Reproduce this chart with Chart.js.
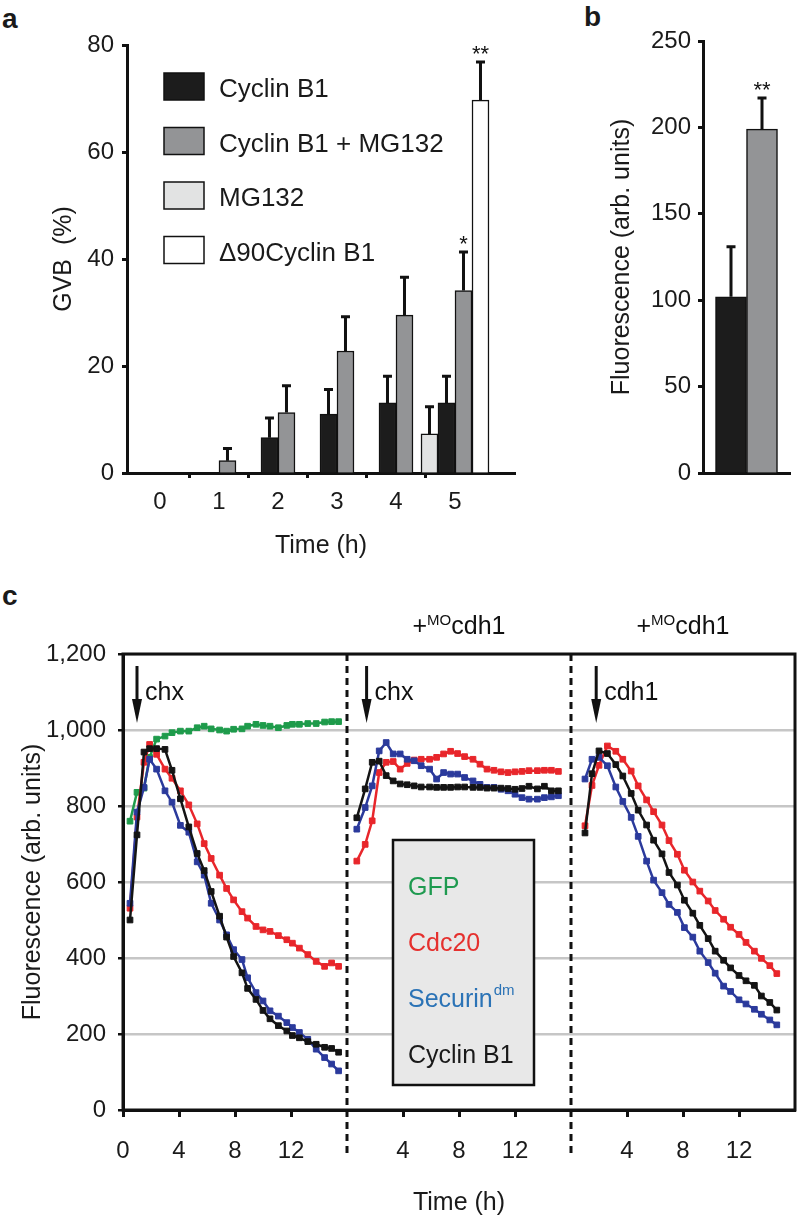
<!DOCTYPE html>
<html>
<head>
<meta charset="utf-8">
<script src="https://cdn.jsdelivr.net/npm/chart.js@4.4.0/dist/chart.umd.min.js"></script>
<style>
  body { margin: 0; background: #fff; width: 800px; height: 1219px; position: relative; overflow: hidden;
         font-family: 'Liberation Sans', Arial, Helvetica, sans-serif; color: #1a1a1a; }
  canvas { position: absolute; }
  .tag { position: absolute; font-weight: bold; font-size: 28px; line-height: 28px; }
</style>
</head>
<body>
<div class="tag" style="left:2px;top:5px">a</div>
<div class="tag" style="left:584px;top:3px">b</div>
<div class="tag" style="left:2px;top:582px">c</div>
<canvas id="gvbChart" width="540" height="575" style="left:0;top:0"></canvas>
<canvas id="fluoChart" width="255" height="500" style="left:545px;top:0"></canvas>
<canvas id="traceChart" width="800" height="629" style="left:0;top:590px"></canvas>
<script>
// ---------- panel a : GVB over time ----------
const gvbHours = [0, 1, 2, 3, 4, 5];
const gvbMG132 = [null, null, null, null, null, 7.3];
const gvbMG132Err = [null, null, null, null, null, 5.1];
const gvbCyclin = [0, 0, 6.6, 11.0, 13.1, 13.1];
const gvbCyclinErr = [null, null, 3.7, 4.6, 5.0, 5.0];
const gvbCyclinMG = [0, 2.3, 11.3, 22.8, 29.5, 34.1];
const gvbCyclinMGErr = [null, 2.3, 5.0, 6.4, 7.1, 7.2];
const gvbCyclinMGStars = [null, null, null, null, null, '*'];
const gvbDelta90 = [null, null, null, null, null, 69.7];
const gvbDelta90Err = [null, null, null, null, null, 7.1];
const gvbDelta90Stars = [null, null, null, null, null, '**'];
const gvbLegendOrder = [1, 2, 0, 3];

// ---------- panel b : fluorescence ----------
const fluoConditions = ['Cyclin B1', 'Cyclin B1 + MG132'];
const fluoMeans = [102, 199];
const fluoErr = [29, 18];
const fluoStars = [null, '**'];

// ---------- panel c : fluorescence traces ----------
const segmentStart = [0, 16, 32];
const seg1Hours = [0.5, 1.0, 1.5, 1.9, 2.4, 3.0, 3.5, 4.1, 4.7, 5.3, 5.8, 6.3, 6.9, 7.4, 7.9, 8.5, 8.9, 9.5, 10.0, 10.5, 11.1, 11.7, 12.1, 12.6, 13.2, 13.8, 14.4, 14.9, 15.4];
const seg1GFP = [760, 836, 847, 928, 976, 984, 993, 997, 997, 1006, 1010, 1003, 1000, 997, 1002, 1003, 1010, 1015, 1012, 1010, 1006, 1012, 1015, 1015, 1017, 1017, 1021, 1022, 1022];
const seg1Cdc20 = [531, 771, 915, 962, 936, 897, 873, 840, 803, 753, 701, 662, 618, 583, 553, 522, 505, 483, 474, 470, 459, 448, 439, 426, 409, 391, 378, 387, 378];
const seg1Securin = [544, 784, 849, 923, 897, 840, 810, 749, 731, 653, 618, 544, 500, 461, 422, 396, 348, 309, 287, 261, 247, 230, 217, 204, 186, 160, 138, 121, 103];
const seg1Cyclin = [500, 724, 942, 951, 951, 949, 894, 819, 745, 675, 630, 575, 510, 455, 404, 361, 320, 291, 262, 240, 222, 208, 196, 190, 180, 173, 165, 162, 152];

const seg2Hours = [0.7, 1.3, 1.8, 2.3, 2.8, 3.3, 3.8, 4.3, 4.8, 5.3, 5.9, 6.4, 6.9, 7.4, 7.9, 8.4, 9.0, 9.5, 10.0, 10.5, 11.0, 11.5, 12.0, 12.5, 13.0, 13.6, 14.1, 14.6, 15.1];
const seg2Cdc20 = [655, 699, 761, 888, 915, 917, 897, 912, 921, 923, 923, 928, 937, 944, 938, 930, 923, 910, 897, 894, 890, 888, 890, 891, 893, 893, 894, 894, 891];
const seg2Securin = [739, 796, 853, 945, 967, 937, 937, 923, 919, 906, 897, 871, 888, 884, 884, 875, 866, 857, 849, 849, 844, 840, 831, 822, 818, 818, 822, 824, 827];
const seg2Cyclin = [769, 845, 915, 918, 880, 866, 858, 856, 853, 850, 850, 849, 849, 849, 850, 850, 849, 849, 847, 847, 847, 846, 844, 846, 852, 845, 852, 840, 840];

const seg3Hours = [1.0, 1.5, 2.0, 2.6, 3.2, 3.7, 4.3, 4.8, 5.4, 5.9, 6.5, 7.0, 7.6, 8.1, 8.7, 9.2, 9.8, 10.3, 10.9, 11.4, 12.0, 12.5, 13.1, 13.6, 14.2, 14.7];
const seg3Cdc20 = [748, 854, 907, 958, 944, 923, 892, 853, 816, 785, 750, 709, 673, 631, 600, 576, 550, 525, 502, 481, 462, 441, 418, 399, 380, 359];
const seg3Securin = [871, 923, 928, 906, 850, 812, 770, 720, 655, 605, 572, 541, 520, 480, 455, 418, 388, 360, 326, 312, 290, 279, 265, 252, 237, 224];
const seg3Cyclin = [729, 885, 945, 938, 909, 879, 833, 789, 750, 710, 674, 625, 592, 552, 518, 486, 451, 418, 394, 374, 354, 340, 328, 300, 283, 263];

const addHours = [1.0, 1.4, 1.8];
const addLabels = ['chx', 'chx', 'cdh1'];
const segmentTitles = [null, ['+', 'MO', 'cdh1'], ['+', 'MO', 'cdh1']];
const traceLegend = [['GFP', ''], ['Cdc20', ''], ['Securin', 'dm'], ['Cyclin B1', '']];

// ---------- styling ----------
const FONT = "'Liberation Sans', Arial, Helvetica, sans-serif";
Chart.defaults.font.family = FONT;
Chart.defaults.color = '#1a1a1a';
Chart.defaults.animation = false;

const lineColor = { GFP: '#1e9b4b', Cdc20: '#e8262b', Securin: '#2b3a9c', Cyclin: '#141414' };
const legendTextColor = ['#1f9a50', '#e5302e', '#2b73b6', '#1a1a1a'];

const isHalfStep = v => Math.abs(v * 2 - Math.round(v * 2)) < 1e-6 && Math.abs(v - Math.round(v)) > 0.1;

// keep the axis box where the layout padding puts it (no label overhang padding)
const fixX = h => s => { s.height = h; s.paddingLeft = 0; s.paddingRight = 0; };
const fixY = w => s => { s.width = w; s.paddingTop = 0; s.paddingBottom = 0; };

const errorBars = {
  id: 'errorBars',
  afterDatasetsDraw(chart) {
    const ctx = chart.ctx;
    const y = chart.scales.y;
    ctx.save();
    ctx.strokeStyle = '#111';
    ctx.fillStyle = '#111';
    ctx.lineWidth = 3;
    ctx.font = '22px ' + FONT;
    ctx.textAlign = 'center';
    ctx.textBaseline = 'alphabetic';
    chart.data.datasets.forEach((ds, i) => {
      chart.getDatasetMeta(i).data.forEach((bar, j) => {
        const v = ds.data[j];
        if (v == null) return;
        const err = ds.errors ? ds.errors[j] : null;
        let top = bar.y;
        if (err != null) {
          top = y.getPixelForValue(v + err);
          ctx.beginPath();
          ctx.moveTo(bar.x, bar.y);
          ctx.lineTo(bar.x, top);
          ctx.moveTo(bar.x - 4.5, top);
          ctx.lineTo(bar.x + 4.5, top);
          ctx.stroke();
        }
        const star = ds.stars ? ds.stars[j] : null;
        if (star) ctx.fillText(star, bar.x, top - 1);
      });
    });
    ctx.restore();
  }
};

const gvbLegend = {
  id: 'gvbLegend',
  afterDraw(chart) {
    const ctx = chart.ctx;
    const a = chart.chartArea;
    ctx.save();
    ctx.font = '26px ' + FONT;
    ctx.textBaseline = 'middle';
    gvbLegendOrder.forEach((di, k) => {
      const ds = chart.data.datasets[di];
      const bx = a.left + 37, by = a.top + 28 + k * 54.5;
      ctx.fillStyle = ds.backgroundColor;
      ctx.fillRect(bx, by, 40, 27);
      ctx.lineWidth = 1.5;
      ctx.strokeStyle = '#111';
      ctx.strokeRect(bx, by, 40, 27);
      ctx.fillStyle = '#1a1a1a';
      ctx.fillText(ds.label, bx + 55, by + 17);
    });
    ctx.restore();
  }
};

const barDefaults = { borderColor: '#111', borderWidth: 1.5 };

new Chart(document.getElementById('gvbChart'), {
  type: 'bar',
  data: {
    labels: gvbHours,
    datasets: [
      { label: 'MG132', data: gvbMG132, errors: gvbMG132Err, backgroundColor: '#e2e3e3' },
      { label: 'Cyclin B1', data: gvbCyclin, errors: gvbCyclinErr, backgroundColor: '#1c1c1c' },
      { label: 'Cyclin B1 + MG132', data: gvbCyclinMG, errors: gvbCyclinMGErr, stars: gvbCyclinMGStars, backgroundColor: '#939496' },
      { label: '\u039490Cyclin B1', data: gvbDelta90, errors: gvbDelta90Err, stars: gvbDelta90Stars, backgroundColor: '#ffffff' }
    ].map(d => Object.assign({}, barDefaults, { barThickness: 17 }, d))
  },
  options: {
    responsive: false,
    layout: { padding: { top: 45, right: 25, left: 0, bottom: 0 } },
    plugins: { legend: { display: false }, tooltip: { enabled: false } },
    scales: {
      x: {
        type: 'linear', min: -0.559, max: 6.017, offset: false,
        afterFit: fixX(102),
        border: { color: '#111', width: 3 },
        grid: {
          drawOnChartArea: false, offset: false, tickLength: 5, tickWidth: 3,
          tickColor: c => (c.tick && isHalfStep(c.tick.value) && c.tick.value < 5) ? '#111' : 'rgba(0,0,0,0)'
        },
        ticks: {
          stepSize: 0.5, maxTicksLimit: 20, autoSkip: false, maxRotation: 0, padding: 10,
          font: { size: 24 },
          callback: v => (Number.isInteger(v) && v >= 0 && v <= 5) ? String(v) : ''
        },
        title: { display: true, text: 'Time (h)', font: { size: 25 }, padding: { top: 0, bottom: 14 } }
      },
      y: {
        min: 0, max: 80,
        afterFit: fixY(127),
        border: { color: '#111', width: 3 },
        grid: { drawOnChartArea: false, tickLength: 5, tickWidth: 3, tickColor: '#111' },
        ticks: { stepSize: 20, padding: 8, font: { size: 24 } },
        title: { display: true, text: 'GVB  (%)', font: { size: 25 }, padding: { top: 49 } }
      }
    }
  },
  plugins: [errorBars, gvbLegend]
});

new Chart(document.getElementById('fluoChart'), {
  type: 'bar',
  data: {
    labels: [''],
    datasets: fluoConditions.map((c, i) => Object.assign({}, barDefaults, {
      label: c, data: [fluoMeans[i]], errors: [fluoErr[i]], stars: [fluoStars[i]],
      backgroundColor: i ? '#939496' : '#1c1c1c', barThickness: 31
    }))
  },
  options: {
    responsive: false,
    layout: { padding: { top: 41, right: 10, left: 0, bottom: 0 } },
    plugins: { legend: { display: false }, tooltip: { enabled: false } },
    scales: {
      x: {
        afterFit: fixX(27),
        border: { color: '#111', width: 3 },
        grid: { display: false },
        ticks: { display: false }
      },
      y: {
        min: 0, max: 250,
        afterFit: fixY(158),
        border: { color: '#111', width: 3 },
        grid: { drawOnChartArea: false, tickLength: 5, tickWidth: 3, tickColor: '#111' },
        ticks: { stepSize: 50, padding: 7, font: { size: 24 } },
        title: { display: true, text: 'Fluorescence (arb. units)', font: { size: 25 }, padding: { top: 62 } }
      }
    }
  },
  plugins: [errorBars]
});

// ---------- panel c ----------
function points(hours, values, seg) {
  return hours.map((h, i) => ({ x: segmentStart[seg] + h, y: values[i] }));
}
function trace(name, key, hours, values, seg) {
  const col = lineColor[key];
  return {
    label: name, data: points(hours, values, seg),
    borderColor: col, backgroundColor: col, pointBackgroundColor: col, pointBorderColor: col,
    borderWidth: 2.5, pointStyle: 'rect', pointRadius: 4, pointBorderWidth: 1, tension: 0
  };
}

const tracePlugin = {
  id: 'tracePlugin',
  afterDraw(chart) {
    const { ctx, chartArea: a, scales: { x } } = chart;
    ctx.save();
    ctx.strokeStyle = '#111';
    ctx.fillStyle = '#111';
    ctx.lineWidth = 3;
    ctx.strokeRect(a.left, a.top, a.right - a.left, a.bottom - a.top);

    ctx.setLineDash([7, 5]);
    segmentStart.slice(1).forEach(s => {
      const px = x.getPixelForValue(s);
      ctx.beginPath();
      ctx.moveTo(px, a.top);
      ctx.lineTo(px, a.bottom + 48);
      ctx.stroke();
    });
    ctx.setLineDash([]);

    // arrows marking additions
    ctx.font = '25px ' + FONT;
    ctx.textBaseline = 'middle';
    ctx.textAlign = 'left';
    addHours.forEach((h, i) => {
      const px = x.getPixelForValue(segmentStart[i] + h);
      const y0 = a.top + 12, tip = a.top + 69;
      ctx.lineWidth = 3;
      ctx.beginPath();
      ctx.moveTo(px, y0);
      ctx.lineTo(px, tip - 20);
      ctx.stroke();
      ctx.beginPath();
      ctx.moveTo(px - 5, tip - 24);
      ctx.lineTo(px + 5, tip - 24);
      ctx.lineTo(px, tip);
      ctx.closePath();
      ctx.fill();
      ctx.fillText(addLabels[i], px + 8, a.top + 39);
    });

    // segment titles
    segmentTitles.forEach((t, i) => {
      if (!t) return;
      const cx = x.getPixelForValue(segmentStart[i] + 8);
      const base = a.top - 20;
      ctx.font = '25px ' + FONT;
      const w0 = ctx.measureText(t[0]).width, w2 = ctx.measureText(t[2]).width;
      ctx.font = '15px ' + FONT;
      const w1 = ctx.measureText(t[1]).width;
      let sx = cx - (w0 + w1 + w2) / 2;
      ctx.textBaseline = 'alphabetic';
      ctx.font = '25px ' + FONT;
      ctx.fillText(t[0], sx, base); sx += w0;
      ctx.font = '15px ' + FONT;
      ctx.fillText(t[1], sx, base - 9); sx += w1;
      ctx.font = '25px ' + FONT;
      ctx.fillText(t[2], sx, base);
    });

    // legend box
    const bx = a.left + 270, by = a.top + 186;
    ctx.fillStyle = '#e8e8e8';
    ctx.fillRect(bx, by, 141, 245);
    ctx.lineWidth = 2.5;
    ctx.strokeStyle = '#111';
    ctx.strokeRect(bx, by, 141, 245);
    traceLegend.forEach((item, k) => {
      const ty = by + 48 + k * 56;
      ctx.fillStyle = legendTextColor[k];
      ctx.font = '25px ' + FONT;
      ctx.textBaseline = 'middle';
      ctx.fillText(item[0], bx + 15, ty);
      if (item[1]) {
        const w = ctx.measureText(item[0]).width;
        ctx.font = '15px ' + FONT;
        ctx.fillText(item[1], bx + 15 + w + 1, ty - 9);
      }
    });
    ctx.restore();
  }
};

new Chart(document.getElementById('traceChart'), {
  type: 'line',
  data: {
    datasets: [
      trace('Cyclin B1', 'Cyclin', seg1Hours, seg1Cyclin, 0),
      trace('Securin', 'Securin', seg1Hours, seg1Securin, 0),
      trace('Cdc20', 'Cdc20', seg1Hours, seg1Cdc20, 0),
      trace('GFP', 'GFP', seg1Hours, seg1GFP, 0),
      trace('Cyclin B1', 'Cyclin', seg2Hours, seg2Cyclin, 1),
      trace('Securin', 'Securin', seg2Hours, seg2Securin, 1),
      trace('Cdc20', 'Cdc20', seg2Hours, seg2Cdc20, 1),
      trace('Cyclin B1', 'Cyclin', seg3Hours, seg3Cyclin, 2),
      trace('Securin', 'Securin', seg3Hours, seg3Securin, 2),
      trace('Cdc20', 'Cdc20', seg3Hours, seg3Cdc20, 2)
    ]
  },
  options: {
    responsive: false,
    layout: { padding: { top: 64, right: 3, left: 0, bottom: 0 } },
    plugins: { legend: { display: false }, tooltip: { enabled: false } },
    scales: {
      x: {
        type: 'linear', min: 0, max: 48,
        afterFit: fixX(109),
        border: { color: '#111', width: 3 },
        grid: {
          drawOnChartArea: false, tickLength: 7, tickWidth: 3,
          tickColor: c => (c.tick && c.tick.value > 0 && c.tick.value % 16 === 0) ? 'rgba(0,0,0,0)' : '#111'
        },
        ticks: {
          stepSize: 4, maxTicksLimit: 20, autoSkip: false, maxRotation: 0, padding: 20,
          font: { size: 24 },
          callback: v => (v > 0 && v % 16 === 0) ? '' : String(v % 16)
        },
        title: { display: true, text: 'Time (h)', font: { size: 25 }, padding: { top: 0, bottom: 1 } }
      },
      y: {
        min: 0, max: 1200,
        afterFit: fixY(123),
        border: { color: '#111', width: 3 },
        grid: { color: '#c6c6c6', lineWidth: 2.5, tickLength: 5, tickWidth: 2.5, tickColor: '#111' },
        ticks: { stepSize: 200, padding: 12, font: { size: 24 }, callback: v => v.toLocaleString('en-US') },
        title: { display: true, text: 'Fluorescence (arb. units)', font: { size: 25 }, padding: { top: 18 } }
      }
    }
  },
  plugins: [tracePlugin]
});
</script>
</body>
</html>
